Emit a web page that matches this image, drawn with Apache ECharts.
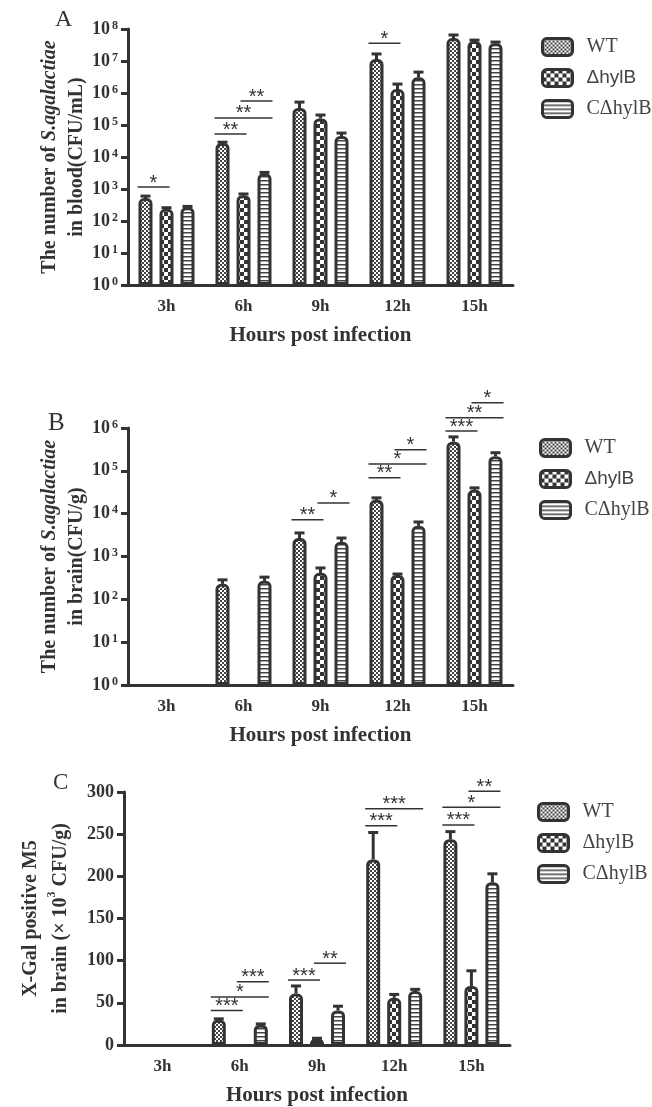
<!DOCTYPE html>
<html>
<head>
<meta charset="utf-8">
<title>S. agalactiae in blood and brain</title>
<script src="https://cdn.jsdelivr.net/npm/echarts@6/dist/echarts.min.js"></script>
<style>
  html, body { margin: 0; padding: 0; background: #fff; }
  #main { width: 652px; height: 1107px; }
</style>
</head>
<body>
<div id="main"></div>
<script>
var hours = ['3h', '6h', '9h', '12h', '15h'];
var strains = ['WT', 'ΔhylB', 'CΔhylB'];

// A: bacteria in blood, CFU/mL (log scale)
var bloodWT = [520, 27500, 340000, 11500000, 52000000];
var bloodDel = [240, 640, 160000, 1330000, 42000000];
var bloodComp = [270, 3100, 45000, 3100000, 36000000];
// top of the error bars
var bloodWTHi = [600, 29000, 520000, 16600000, 65000000];
var bloodDelHi = [260, 700, 205000, 1900000, 45000000];
var bloodCompHi = [285, 3300, 56000, 4500000, 39000000];

// B: bacteria in brain, CFU/g (log scale), null = nothing detected
var brainWT = [null, 230, 2700, 21000, 480000];
var brainDel = [null, null, 415, 370, 36000];
var brainComp = [null, 270, 2200, 5200, 220000];
var brainWTHi = [null, 285, 3550, 23400, 620000];
var brainDelHi = [null, null, 540, 390, 40000];
var brainCompHi = [null, 330, 2700, 6400, 265000];

// C: X-Gal positive M5 in brain, x10^3 CFU/g, null = nothing detected (no bar drawn)
var xgalWT = [null, 30, 61, 220, 244];
var xgalDel = [null, null, 7, 56, 70];
var xgalComp = [null, 24, 41, 64, 193];
var xgalWTHi = [null, 31, 70, 252, 253];
var xgalDelHi = [null, null, 8, 60, 88];
var xgalCompHi = [null, 25, 46, 66, 203];

// significance brackets: [hour index, from strain, to strain, height, number of stars]
var bloodSig = [[0, 0, 1, 1150, 1], [1, 0, 1, 52000, 2], [1, 0, 2, 166000, 2], [1, 1, 2, 560000, 2], [3, 0, 1, 36000000, 1]];
var brainSig = [[2, 0, 1, 7200, 2], [2, 1, 2, 17800, 1], [3, 0, 1, 69000, 2], [3, 0, 2, 145000, 1], [3, 1, 2, 310000, 1],
  [4, 0, 1, 850000, 3], [4, 0, 2, 1740000, 2], [4, 1, 2, 3900000, 1]];
var xgalSig = [[1, 0, 1, 41, 3], [1, 0, 2, 57, 1], [1, 1, 2, 75, 3], [2, 0, 1, 77, 3], [2, 1, 2, 97, 2],
  [3, 0, 1, 260, 3], [3, 0, 2, 280, 3], [4, 0, 1, 261, 3], [4, 0, 2, 282, 1], [4, 1, 2, 301, 2]];

var INK = '#333';
var SERIF = '"Liberation Serif", "Times New Roman", serif';
var SANS = '"Liberation Sans", Arial, sans-serif';
var STEP = 21; // bar width + gap

// fill patterns for the bars
function tile(kind) {
  var c = document.createElement('canvas');
  var ctx;
  if (kind === 0) {
    c.width = 4; c.height = 4; ctx = c.getContext('2d');
    ctx.fillStyle = '#fff'; ctx.fillRect(0, 0, 4, 4);
    ctx.fillStyle = '#444'; ctx.fillRect(0, 0, 2, 2); ctx.fillRect(2, 2, 2, 2);
  } else if (kind === 1) {
    c.width = 8; c.height = 8; ctx = c.getContext('2d');
    ctx.fillStyle = '#fff'; ctx.fillRect(0, 0, 8, 8);
    ctx.fillStyle = '#333'; ctx.fillRect(0, 0, 4, 4); ctx.fillRect(4, 4, 4, 4);
  } else {
    c.width = 4; c.height = 4; ctx = c.getContext('2d');
    ctx.fillStyle = '#fff'; ctx.fillRect(0, 0, 4, 4);
    ctx.fillStyle = '#444'; ctx.fillRect(0, 0, 4, 1.5);
  }
  return { image: c, repeat: 'repeat' };
}
var fills = [tile(0), tile(1), tile(2)];

function powLabel(v) {
  var e = Math.round(Math.log(v) / Math.LN10);
  return '{b|10}{s|' + e + '}';
}
var powRich = {
  b: { fontFamily: SERIF, fontWeight: 'bold', fontSize: 18, color: INK },
  s: { fontFamily: SERIF, fontWeight: 'bold', fontSize: 12, color: INK, verticalAlign: 'top', padding: [0, 0, 7, 2] }
};

function errRows(groups) {
  var out = [];
  groups.forEach(function (g, k) {
    g[0].forEach(function (v, i) {
      if (v != null && g[1][i] != null) out.push([i, k, v, g[1][i]]);
    });
  });
  return out;
}

function renderErr(params, api) {
  var k = api.value(1);
  var p0 = api.coord([api.value(0), api.value(2)]);
  var p1 = api.coord([api.value(0), api.value(3)]);
  var x = p0[0] + (k - 1) * STEP;
  return {
    type: 'group',
    children: [
      { type: 'line', shape: { x1: x, y1: p0[1], x2: x, y2: p1[1] }, style: { stroke: INK, lineWidth: 3 } },
      { type: 'line', shape: { x1: x - 5, y1: p1[1], x2: x + 5, y2: p1[1] }, style: { stroke: INK, lineWidth: 3 } }
    ]
  };
}

function renderSig(params, api) {
  var from = api.value(1), to = api.value(2);
  var p = api.coord([api.value(0), api.value(3)]);
  var x1 = from === 0 ? p[0] - 29 : p[0] + (from - 1) * STEP - 3;
  var x2 = to === 2 ? p[0] + 29 : p[0] + (to - 1) * STEP + 3;
  var stars = new Array(api.value(4) + 1).join('*');
  return {
    type: 'group',
    children: [
      { type: 'line', shape: { x1: x1, y1: p[1], x2: x2, y2: p[1] }, style: { stroke: INK, lineWidth: 1.5 } },
      { type: 'text', style: { x: (x1 + x2) / 2, y: p[1] + 6, text: stars, align: 'center', verticalAlign: 'bottom',
        font: '20px ' + SANS, fill: INK } }
    ]
  };
}

function barSeries(idx, lists) {
  return lists.map(function (d, k) {
    return {
      type: 'bar', name: strains[k], xAxisIndex: idx, yAxisIndex: idx, data: d,
      barWidth: 14, barGap: '50%',
      itemStyle: { color: fills[k], borderColor: INK, borderWidth: 3, borderRadius: [4, 4, 0, 0] },
      emphasis: { disabled: true }
    };
  });
}

function xAxisFor(idx) {
  return {
    gridIndex: idx, type: 'category', data: hours,
    axisLine: { lineStyle: { color: INK, width: 3 } },
    axisTick: { alignWithLabel: true, length: 7, lineStyle: { color: INK, width: 3 } },
    axisLabel: { fontFamily: SERIF, fontWeight: 'bold', fontSize: 17, color: INK, margin: 13 },
    name: 'Hours post infection', nameLocation: 'middle', nameGap: 40,
    nameTextStyle: { fontFamily: SERIF, fontWeight: 'bold', fontSize: 21, color: INK }
  };
}

function nameStyle(lh) {
  return {
    fontFamily: SERIF, fontWeight: 'bold', fontSize: 20, color: INK, lineHeight: lh,
    rich: {
      i: { fontFamily: SERIF, fontWeight: 'bold', fontStyle: 'italic', fontSize: 20, color: INK, lineHeight: lh },
      sup: { fontFamily: SERIF, fontWeight: 'bold', fontSize: 12, color: INK, verticalAlign: 'top', lineHeight: lh, padding: [0, 0, 10, 0] }
    }
  };
}

function yAxisLog(idx, max, split, name) {
  return {
    gridIndex: idx, type: 'log', logBase: 10, min: 1, max: max, splitNumber: split,
    axisLine: { show: true, lineStyle: { color: INK, width: 3 } },
    axisTick: { show: true, length: 7, lineStyle: { color: INK, width: 3 } },
    axisLabel: { formatter: powLabel, rich: powRich, margin: 10 },
    splitLine: { show: false }, minorTick: { show: false },
    name: name, nameLocation: 'middle', nameGap: 38, nameRotate: 90, nameMoveOverlap: false,
    nameTextStyle: nameStyle(27)
  };
}

function legendFor(left, top, sansDelta) {
  return {
    left: left, top: top, orient: 'vertical', padding: 0, itemGap: 11,
    itemWidth: 30, itemHeight: 17, icon: 'roundRect', selectedMode: false,
    data: strains,
    itemStyle: { borderColor: INK, borderWidth: 3 },
    formatter: function (n) { return (sansDelta && n === 'ΔhylB') ? '{s|' + n + '}' : n; },
    textStyle: {
      fontFamily: SERIF, fontSize: 20, color: '#444', padding: [0, 0, 0, 9],
      rich: { s: { fontFamily: SANS, fontSize: 19, color: '#444' } }
    }
  };
}

var chart = echarts.init(document.getElementById('main'), null, { renderer: 'canvas' });

var series = []
  .concat(barSeries(0, [bloodWT, bloodDel, bloodComp]))
  .concat(barSeries(1, [brainWT, brainDel, brainComp]))
  .concat(barSeries(2, [xgalWT, xgalDel, xgalComp]));

[
  [[bloodWT, bloodWTHi], [bloodDel, bloodDelHi], [bloodComp, bloodCompHi]],
  [[brainWT, brainWTHi], [brainDel, brainDelHi], [brainComp, brainCompHi]],
  [[xgalWT, xgalWTHi], [xgalDel, xgalDelHi], [xgalComp, xgalCompHi]]
].forEach(function (g, idx) {
  series.push({
    type: 'custom', xAxisIndex: idx, yAxisIndex: idx, renderItem: renderErr,
    data: errRows(g), encode: { x: 0, y: [2, 3] }, z: 5, silent: true
  });
});
[bloodSig, brainSig, xgalSig].forEach(function (s, idx) {
  series.push({
    type: 'custom', xAxisIndex: idx, yAxisIndex: idx, renderItem: renderSig,
    data: s, encode: { x: 0, y: 3 }, z: 6, silent: true, clip: false
  });
});

var option = {
  backgroundColor: '#fff',
  animation: false,
  title: [
    { text: 'A', left: 55, top: 8, padding: 0, textStyle: { fontFamily: SERIF, fontWeight: 'normal', fontSize: 24, color: INK } },
    { text: 'B', left: 48, top: 411, padding: 0, textStyle: { fontFamily: SERIF, fontWeight: 'normal', fontSize: 25, color: INK } },
    { text: 'C', left: 53, top: 771, padding: 0, textStyle: { fontFamily: SERIF, fontWeight: 'normal', fontSize: 23, color: INK } }
  ],
  legend: [
    legendFor(541, 37, true),
    legendFor(539, 438, true),
    legendFor(537, 802, false)
  ],
  grid: [
    { left: 128, top: 29, width: 385, height: 256 },
    { left: 128, top: 428, width: 385, height: 257 },
    { left: 124, top: 792, width: 386, height: 256 }
  ],
  xAxis: [xAxisFor(0), xAxisFor(1), xAxisFor(2)],
  yAxis: [
    yAxisLog(0, 1e8, 8, 'The number of {i|S.agalactiae}\nin blood(CFU/mL)'),
    yAxisLog(1, 1e6, 6, 'The number of {i|S.agalactiae}\nin brain(CFU/g)'),
    {
      gridIndex: 2, type: 'value', min: 0, max: 300, interval: 50,
      axisLine: { show: true, lineStyle: { color: INK, width: 3 } },
      axisTick: { show: true, length: 7, lineStyle: { color: INK, width: 3 } },
      axisLabel: { fontFamily: SERIF, fontWeight: 'bold', fontSize: 18, color: INK, margin: 10 },
      splitLine: { show: false },
      name: 'X-Gal positive M5\nin brain (× 10{sup|3} CFU/g)', nameLocation: 'middle', nameGap: 48, nameRotate: 90,
      nameMoveOverlap: false, nameTextStyle: nameStyle(30)
    }
  ],
  series: series
};

chart.setOption(option);
</script>
</body>
</html>
